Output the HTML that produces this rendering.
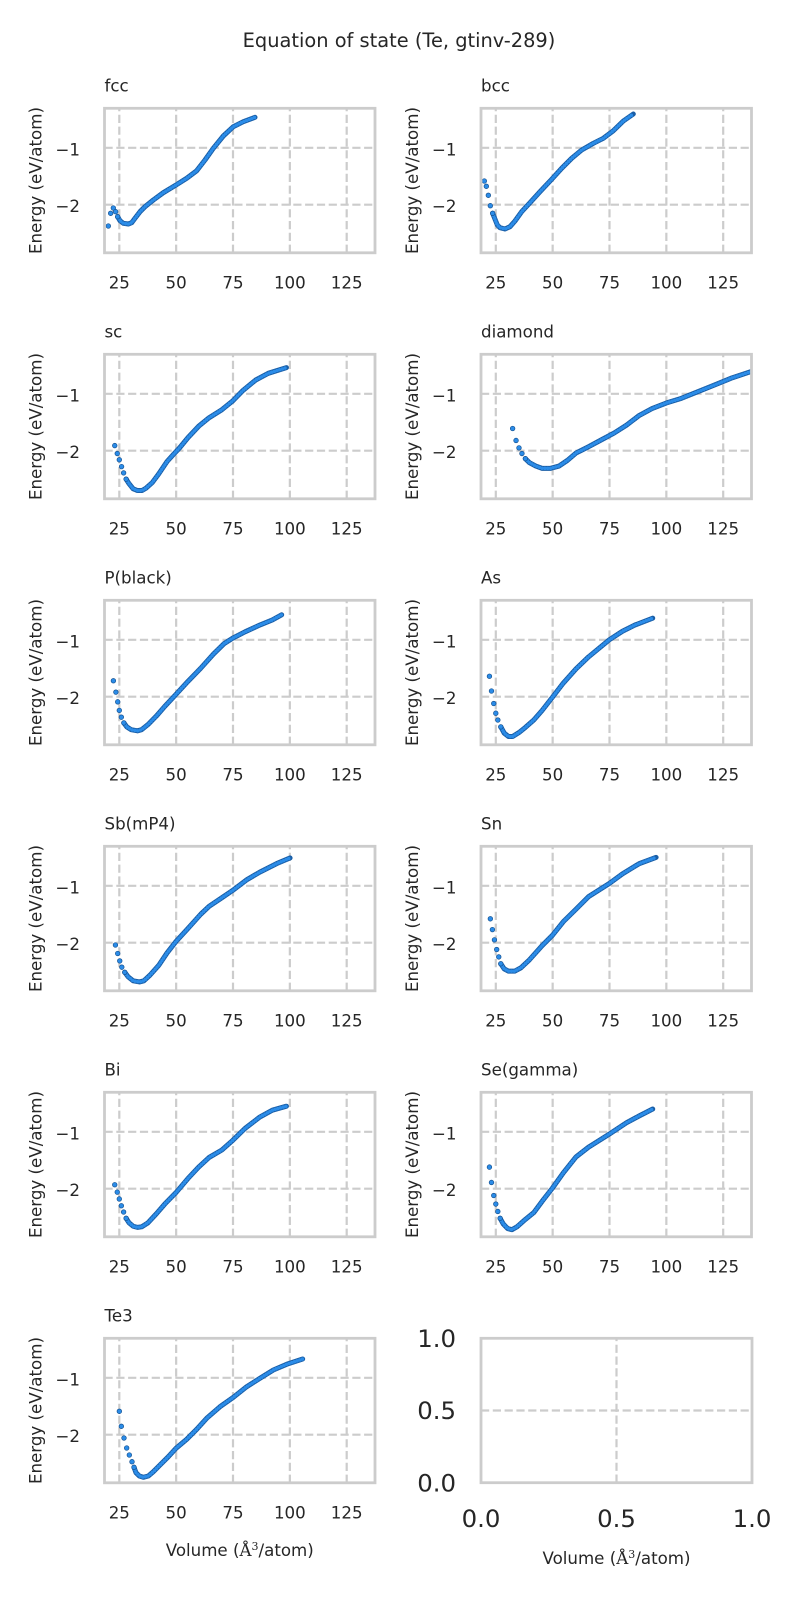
<!DOCTYPE html>
<html><head><meta charset="utf-8"><style>
html,body{margin:0;padding:0;background:#fff;}
svg{display:block;}
text{font-family:"DejaVu Sans","Liberation Sans",sans-serif;fill:#262626;}
.tk{font-size:16.67px;}
.tl{font-size:16.67px;}
.big{font-size:24.4px;}
.gl{stroke:#cccccc;stroke-width:2.2;stroke-dasharray:8.2 3.6;fill:none;}
.sp{stroke:#cccccc;stroke-width:2.8;fill:none;}
.d1{fill:none;stroke:#1a5ea6;stroke-width:5;stroke-linecap:round;stroke-linejoin:round;}
.d2{fill:none;stroke:#2b8ce8;stroke-width:3.4;stroke-linecap:round;stroke-linejoin:round;stroke-dasharray:0 2.8;}
.pt{fill:#2b8ce8;stroke:#14508f;stroke-width:0.7;}
</style></head><body>
<svg width="800" height="1600" viewBox="0 0 800 1600" xmlns="http://www.w3.org/2000/svg">
<defs><clipPath id="c"><rect x="0" y="0" width="270.5" height="144.5"/></clipPath></defs>
<rect width="800" height="1600" fill="#fff"/>
<text x="399" y="47" text-anchor="middle" style="font-size:19.4px">Equation of state (Te, gtinv-289)</text>

<!-- fcc -->
<g transform="translate(104.5,108.3)">
<line class="gl" x1="14.8" y1="144.5" x2="14.8" y2="0"/><line class="gl" x1="71.65" y1="144.5" x2="71.65" y2="0"/><line class="gl" x1="128.5" y1="144.5" x2="128.5" y2="0"/><line class="gl" x1="185.35" y1="144.5" x2="185.35" y2="0"/><line class="gl" x1="242.2" y1="144.5" x2="242.2" y2="0"/>
<line class="gl" x1="0" y1="39.5" x2="270.5" y2="39.5"/><line class="gl" x1="0" y1="96.4" x2="270.5" y2="96.4"/>
<g clip-path="url(#c)">
<polyline class="d1" points="13.17,108.4 15.5,112.4 18.83,115.0 23.83,115.7 27.17,114.4 30.5,110.0 35.5,103.4 40.5,98.4 48.8,91.7 58.8,84.4 71.5,76.7 82.2,70.0 92.2,62.4 100.5,51.7 108.8,40.0 118.8,27.7 128.8,18.4 138.8,13.4 150.5,9.0"/>
<polyline class="d2" points="13.17,108.4 15.5,112.4 18.83,115.0 23.83,115.7 27.17,114.4 30.5,110.0 35.5,103.4 40.5,98.4 48.8,91.7 58.8,84.4 71.5,76.7 82.2,70.0 92.2,62.4 100.5,51.7 108.8,40.0 118.8,27.7 128.8,18.4 138.8,13.4 150.5,9.0"/>
<circle class="pt" cx="3.83" cy="117.7" r="2.3"/><circle class="pt" cx="6.17" cy="105.0" r="2.3"/><circle class="pt" cx="8.83" cy="99.7" r="2.3"/><circle class="pt" cx="11.17" cy="103.4" r="2.3"/><circle class="pt" cx="13.17" cy="108.4" r="2.3"/>
</g>
<rect class="sp" x="0" y="0" width="270.5" height="144.5"/>
<text class="tl" x="0" y="-16.7">fcc</text>
<text class="tk" x="14.8" y="180" text-anchor="middle">25</text><text class="tk" x="71.65" y="180" text-anchor="middle">50</text><text class="tk" x="128.5" y="180" text-anchor="middle">75</text><text class="tk" x="185.35" y="180" text-anchor="middle">100</text><text class="tk" x="242.2" y="180" text-anchor="middle">125</text>
<text class="tk" x="-24.5" y="47" text-anchor="end">−1</text><text class="tk" x="-24.5" y="103.9" text-anchor="end">−2</text>
<text class="tk" transform="translate(-63,72.25) rotate(-90)" text-anchor="middle">Energy (eV/atom)</text>
</g>

<!-- bcc -->
<g transform="translate(481,108.3)">
<line class="gl" x1="14.8" y1="144.5" x2="14.8" y2="0"/><line class="gl" x1="71.65" y1="144.5" x2="71.65" y2="0"/><line class="gl" x1="128.5" y1="144.5" x2="128.5" y2="0"/><line class="gl" x1="185.35" y1="144.5" x2="185.35" y2="0"/><line class="gl" x1="242.2" y1="144.5" x2="242.2" y2="0"/>
<line class="gl" x1="0" y1="39.5" x2="270.5" y2="39.5"/><line class="gl" x1="0" y1="96.4" x2="270.5" y2="96.4"/>
<g clip-path="url(#c)">
<polyline class="d1" points="11.67,105.0 14.33,111.7 16.33,116.7 19.0,119.4 24.0,120.7 29.0,118.4 34.0,112.7 40.67,103.4 49.0,94.4 59.0,83.4 70.67,71.0 80.67,60.0 90.67,50.0 100.67,41.7 112.33,35.0 122.33,30.0 132.33,22.4 142.33,12.7 152.33,5.7"/>
<polyline class="d2" points="11.67,105.0 14.33,111.7 16.33,116.7 19.0,119.4 24.0,120.7 29.0,118.4 34.0,112.7 40.67,103.4 49.0,94.4 59.0,83.4 70.67,71.0 80.67,60.0 90.67,50.0 100.67,41.7 112.33,35.0 122.33,30.0 132.33,22.4 142.33,12.7 152.33,5.7"/>
<circle class="pt" cx="3.33" cy="72.7" r="2.3"/><circle class="pt" cx="5.33" cy="78.0" r="2.3"/><circle class="pt" cx="7.33" cy="87.0" r="2.3"/><circle class="pt" cx="9.33" cy="97.4" r="2.3"/><circle class="pt" cx="11.67" cy="105.0" r="2.3"/>
</g>
<rect class="sp" x="0" y="0" width="270.5" height="144.5"/>
<text class="tl" x="0" y="-16.7">bcc</text>
<text class="tk" x="14.8" y="180" text-anchor="middle">25</text><text class="tk" x="71.65" y="180" text-anchor="middle">50</text><text class="tk" x="128.5" y="180" text-anchor="middle">75</text><text class="tk" x="185.35" y="180" text-anchor="middle">100</text><text class="tk" x="242.2" y="180" text-anchor="middle">125</text>
<text class="tk" x="-24.5" y="47" text-anchor="end">−1</text><text class="tk" x="-24.5" y="103.9" text-anchor="end">−2</text>
<text class="tk" transform="translate(-63,72.25) rotate(-90)" text-anchor="middle">Energy (eV/atom)</text>
</g>

<!-- sc -->
<g transform="translate(104.5,354.3)">
<line class="gl" x1="14.8" y1="144.5" x2="14.8" y2="0"/><line class="gl" x1="71.65" y1="144.5" x2="71.65" y2="0"/><line class="gl" x1="128.5" y1="144.5" x2="128.5" y2="0"/><line class="gl" x1="185.35" y1="144.5" x2="185.35" y2="0"/><line class="gl" x1="242.2" y1="144.5" x2="242.2" y2="0"/>
<line class="gl" x1="0" y1="39.5" x2="270.5" y2="39.5"/><line class="gl" x1="0" y1="96.4" x2="270.5" y2="96.4"/>
<g clip-path="url(#c)">
<polyline class="d1" points="21.62,124.85 24.58,129.4 28.67,134.52 33.0,136.23 37.54,136.23 41.41,133.95 47.78,128.26 54.14,119.73 62.55,107.21 68.69,100.38 75.06,93.56 83.48,83.31 94.16,71.93 104.62,63.4 117.36,55.43 128.5,46.33 138.51,36.09 151.02,25.84 163.75,19.02 181.94,13.33"/>
<polyline class="d2" points="21.62,124.85 24.58,129.4 28.67,134.52 33.0,136.23 37.54,136.23 41.41,133.95 47.78,128.26 54.14,119.73 62.55,107.21 68.69,100.38 75.06,93.56 83.48,83.31 94.16,71.93 104.62,63.4 117.36,55.43 128.5,46.33 138.51,36.09 151.02,25.84 163.75,19.02 181.94,13.33"/>
<circle class="pt" cx="10.25" cy="91.28" r="2.3"/><circle class="pt" cx="12.75" cy="99.25" r="2.3"/><circle class="pt" cx="14.8" cy="105.5" r="2.3"/><circle class="pt" cx="17.07" cy="112.33" r="2.3"/><circle class="pt" cx="19.12" cy="118.59" r="2.3"/><circle class="pt" cx="21.62" cy="124.85" r="2.3"/>
</g>
<rect class="sp" x="0" y="0" width="270.5" height="144.5"/>
<text class="tl" x="0" y="-16.7">sc</text>
<text class="tk" x="14.8" y="180" text-anchor="middle">25</text><text class="tk" x="71.65" y="180" text-anchor="middle">50</text><text class="tk" x="128.5" y="180" text-anchor="middle">75</text><text class="tk" x="185.35" y="180" text-anchor="middle">100</text><text class="tk" x="242.2" y="180" text-anchor="middle">125</text>
<text class="tk" x="-24.5" y="47" text-anchor="end">−1</text><text class="tk" x="-24.5" y="103.9" text-anchor="end">−2</text>
<text class="tk" transform="translate(-63,72.25) rotate(-90)" text-anchor="middle">Energy (eV/atom)</text>
</g>

<!-- diamond -->
<g transform="translate(481,354.3)">
<line class="gl" x1="14.8" y1="144.5" x2="14.8" y2="0"/><line class="gl" x1="71.65" y1="144.5" x2="71.65" y2="0"/><line class="gl" x1="128.5" y1="144.5" x2="128.5" y2="0"/><line class="gl" x1="185.35" y1="144.5" x2="185.35" y2="0"/><line class="gl" x1="242.2" y1="144.5" x2="242.2" y2="0"/>
<line class="gl" x1="0" y1="39.5" x2="270.5" y2="39.5"/><line class="gl" x1="0" y1="96.4" x2="270.5" y2="96.4"/>
<g clip-path="url(#c)">
<polyline class="d1" points="44.36,104.37 48.46,108.35 54.82,111.76 61.19,114.04 69.6,114.04 78.02,111.76 86.43,106.07 95.07,98.68 107.58,92.42 120.31,85.59 133.05,78.76 145.55,70.8 158.29,61.12 171.02,54.29 185.58,48.6 200.36,44.05 217.19,37.22 234.24,30.4 251.07,23.57 269.94,17.31 275,15.6"/>
<polyline class="d2" points="44.36,104.37 48.46,108.35 54.82,111.76 61.19,114.04 69.6,114.04 78.02,111.76 86.43,106.07 95.07,98.68 107.58,92.42 120.31,85.59 133.05,78.76 145.55,70.8 158.29,61.12 171.02,54.29 185.58,48.6 200.36,44.05 217.19,37.22 234.24,30.4 251.07,23.57 269.94,17.31 275,15.6"/>
<circle class="pt" cx="31.63" cy="74.21" r="2.3"/><circle class="pt" cx="35.04" cy="86.16" r="2.3"/><circle class="pt" cx="37.99" cy="93.56" r="2.3"/><circle class="pt" cx="40.95" cy="99.25" r="2.3"/><circle class="pt" cx="44.36" cy="104.37" r="2.3"/>
</g>
<rect class="sp" x="0" y="0" width="270.5" height="144.5"/>
<text class="tl" x="0" y="-16.7">diamond</text>
<text class="tk" x="14.8" y="180" text-anchor="middle">25</text><text class="tk" x="71.65" y="180" text-anchor="middle">50</text><text class="tk" x="128.5" y="180" text-anchor="middle">75</text><text class="tk" x="185.35" y="180" text-anchor="middle">100</text><text class="tk" x="242.2" y="180" text-anchor="middle">125</text>
<text class="tk" x="-24.5" y="47" text-anchor="end">−1</text><text class="tk" x="-24.5" y="103.9" text-anchor="end">−2</text>
<text class="tk" transform="translate(-63,72.25) rotate(-90)" text-anchor="middle">Energy (eV/atom)</text>
</g>

<!-- P(black) -->
<g transform="translate(104.5,600.3)">
<line class="gl" x1="14.8" y1="144.5" x2="14.8" y2="0"/><line class="gl" x1="71.65" y1="144.5" x2="71.65" y2="0"/><line class="gl" x1="128.5" y1="144.5" x2="128.5" y2="0"/><line class="gl" x1="185.35" y1="144.5" x2="185.35" y2="0"/><line class="gl" x1="242.2" y1="144.5" x2="242.2" y2="0"/>
<line class="gl" x1="0" y1="39.5" x2="270.5" y2="39.5"/><line class="gl" x1="0" y1="96.4" x2="270.5" y2="96.4"/>
<g clip-path="url(#c)">
<polyline class="d1" points="19.35,122.57 22.3,126.56 26.62,129.4 33.0,130.54 37.09,129.4 43.45,124.28 51.87,115.75 60.28,106.07 71.42,94.12 83.48,81.04 96.21,67.95 108.95,53.73 119.4,43.48 128.27,37.79 140.55,31.53 155.33,24.71 167.84,19.59 177.16,14.46"/>
<polyline class="d2" points="19.35,122.57 22.3,126.56 26.62,129.4 33.0,130.54 37.09,129.4 43.45,124.28 51.87,115.75 60.28,106.07 71.42,94.12 83.48,81.04 96.21,67.95 108.95,53.73 119.4,43.48 128.27,37.79 140.55,31.53 155.33,24.71 167.84,19.59 177.16,14.46"/>
<circle class="pt" cx="8.89" cy="80.47" r="2.3"/><circle class="pt" cx="11.39" cy="91.85" r="2.3"/><circle class="pt" cx="13.21" cy="101.52" r="2.3"/><circle class="pt" cx="14.8" cy="110.06" r="2.3"/><circle class="pt" cx="16.85" cy="116.88" r="2.3"/><circle class="pt" cx="19.35" cy="122.57" r="2.3"/>
</g>
<rect class="sp" x="0" y="0" width="270.5" height="144.5"/>
<text class="tl" x="0" y="-16.7">P(black)</text>
<text class="tk" x="14.8" y="180" text-anchor="middle">25</text><text class="tk" x="71.65" y="180" text-anchor="middle">50</text><text class="tk" x="128.5" y="180" text-anchor="middle">75</text><text class="tk" x="185.35" y="180" text-anchor="middle">100</text><text class="tk" x="242.2" y="180" text-anchor="middle">125</text>
<text class="tk" x="-24.5" y="47" text-anchor="end">−1</text><text class="tk" x="-24.5" y="103.9" text-anchor="end">−2</text>
<text class="tk" transform="translate(-63,72.25) rotate(-90)" text-anchor="middle">Energy (eV/atom)</text>
</g>

<!-- As -->
<g transform="translate(481,600.3)">
<line class="gl" x1="14.8" y1="144.5" x2="14.8" y2="0"/><line class="gl" x1="71.65" y1="144.5" x2="71.65" y2="0"/><line class="gl" x1="128.5" y1="144.5" x2="128.5" y2="0"/><line class="gl" x1="185.35" y1="144.5" x2="185.35" y2="0"/><line class="gl" x1="242.2" y1="144.5" x2="242.2" y2="0"/>
<line class="gl" x1="0" y1="39.5" x2="270.5" y2="39.5"/><line class="gl" x1="0" y1="96.4" x2="270.5" y2="96.4"/>
<g clip-path="url(#c)">
<polyline class="d1" points="19.8,126.56 23.21,132.82 27.53,136.23 31.63,136.23 37.99,132.25 44.36,127.13 52.78,119.73 61.19,110.06 71.42,96.97 82.34,82.74 95.07,68.52 107.58,56.57 128.27,39.5 141.46,30.97 153.97,24.71 171.71,17.88"/>
<polyline class="d2" points="19.8,126.56 23.21,132.82 27.53,136.23 31.63,136.23 37.99,132.25 44.36,127.13 52.78,119.73 61.19,110.06 71.42,96.97 82.34,82.74 95.07,68.52 107.58,56.57 128.27,39.5 141.46,30.97 153.97,24.71 171.71,17.88"/>
<circle class="pt" cx="8.43" cy="75.92" r="2.3"/><circle class="pt" cx="10.48" cy="90.71" r="2.3"/><circle class="pt" cx="12.75" cy="103.23" r="2.3"/><circle class="pt" cx="14.8" cy="112.9" r="2.3"/><circle class="pt" cx="16.85" cy="119.73" r="2.3"/><circle class="pt" cx="19.8" cy="126.56" r="2.3"/>
</g>
<rect class="sp" x="0" y="0" width="270.5" height="144.5"/>
<text class="tl" x="0" y="-16.7">As</text>
<text class="tk" x="14.8" y="180" text-anchor="middle">25</text><text class="tk" x="71.65" y="180" text-anchor="middle">50</text><text class="tk" x="128.5" y="180" text-anchor="middle">75</text><text class="tk" x="185.35" y="180" text-anchor="middle">100</text><text class="tk" x="242.2" y="180" text-anchor="middle">125</text>
<text class="tk" x="-24.5" y="47" text-anchor="end">−1</text><text class="tk" x="-24.5" y="103.9" text-anchor="end">−2</text>
<text class="tk" transform="translate(-63,72.25) rotate(-90)" text-anchor="middle">Energy (eV/atom)</text>
</g>

<!-- Sb(mP4) -->
<g transform="translate(104.5,846.3)">
<line class="gl" x1="14.8" y1="144.5" x2="14.8" y2="0"/><line class="gl" x1="71.65" y1="144.5" x2="71.65" y2="0"/><line class="gl" x1="128.5" y1="144.5" x2="128.5" y2="0"/><line class="gl" x1="185.35" y1="144.5" x2="185.35" y2="0"/><line class="gl" x1="242.2" y1="144.5" x2="242.2" y2="0"/>
<line class="gl" x1="0" y1="39.5" x2="270.5" y2="39.5"/><line class="gl" x1="0" y1="96.4" x2="270.5" y2="96.4"/>
<g clip-path="url(#c)">
<polyline class="d1" points="20.26,125.99 23.67,130.54 28.67,134.52 35.04,135.66 39.36,134.52 45.5,128.83 54.14,119.16 62.55,106.64 71.42,95.26 83.48,82.18 96.21,67.95 104.62,59.98 117.36,51.45 128.27,44.05 142.6,33.24 155.33,25.84 172.16,17.31 185.58,11.62"/>
<polyline class="d2" points="20.26,125.99 23.67,130.54 28.67,134.52 35.04,135.66 39.36,134.52 45.5,128.83 54.14,119.16 62.55,106.64 71.42,95.26 83.48,82.18 96.21,67.95 104.62,59.98 117.36,51.45 128.27,44.05 142.6,33.24 155.33,25.84 172.16,17.31 185.58,11.62"/>
<circle class="pt" cx="10.93" cy="98.68" r="2.3"/><circle class="pt" cx="13.21" cy="107.21" r="2.3"/><circle class="pt" cx="15.25" cy="114.61" r="2.3"/><circle class="pt" cx="17.3" cy="120.87" r="2.3"/><circle class="pt" cx="20.26" cy="125.99" r="2.3"/>
</g>
<rect class="sp" x="0" y="0" width="270.5" height="144.5"/>
<text class="tl" x="0" y="-16.7">Sb(mP4)</text>
<text class="tk" x="14.8" y="180" text-anchor="middle">25</text><text class="tk" x="71.65" y="180" text-anchor="middle">50</text><text class="tk" x="128.5" y="180" text-anchor="middle">75</text><text class="tk" x="185.35" y="180" text-anchor="middle">100</text><text class="tk" x="242.2" y="180" text-anchor="middle">125</text>
<text class="tk" x="-24.5" y="47" text-anchor="end">−1</text><text class="tk" x="-24.5" y="103.9" text-anchor="end">−2</text>
<text class="tk" transform="translate(-63,72.25) rotate(-90)" text-anchor="middle">Energy (eV/atom)</text>
</g>

<!-- Sn -->
<g transform="translate(481,846.3)">
<line class="gl" x1="14.8" y1="144.5" x2="14.8" y2="0"/><line class="gl" x1="71.65" y1="144.5" x2="71.65" y2="0"/><line class="gl" x1="128.5" y1="144.5" x2="128.5" y2="0"/><line class="gl" x1="185.35" y1="144.5" x2="185.35" y2="0"/><line class="gl" x1="242.2" y1="144.5" x2="242.2" y2="0"/>
<line class="gl" x1="0" y1="39.5" x2="270.5" y2="39.5"/><line class="gl" x1="0" y1="96.4" x2="270.5" y2="96.4"/>
<g clip-path="url(#c)">
<polyline class="d1" points="19.8,117.45 23.21,122.57 27.53,124.85 33.67,124.85 40.04,121.44 48.46,113.47 61.19,99.25 71.42,89.0 82.34,75.35 95.07,62.83 107.58,50.31 128.27,37.22 141.46,27.55 158.29,17.31 175.12,11.05"/>
<polyline class="d2" points="19.8,117.45 23.21,122.57 27.53,124.85 33.67,124.85 40.04,121.44 48.46,113.47 61.19,99.25 71.42,89.0 82.34,75.35 95.07,62.83 107.58,50.31 128.27,37.22 141.46,27.55 158.29,17.31 175.12,11.05"/>
<circle class="pt" cx="9.34" cy="72.5" r="2.3"/><circle class="pt" cx="11.39" cy="83.31" r="2.3"/><circle class="pt" cx="13.44" cy="93.56" r="2.3"/><circle class="pt" cx="15.71" cy="103.23" r="2.3"/><circle class="pt" cx="17.76" cy="110.63" r="2.3"/><circle class="pt" cx="19.8" cy="117.45" r="2.3"/>
</g>
<rect class="sp" x="0" y="0" width="270.5" height="144.5"/>
<text class="tl" x="0" y="-16.7">Sn</text>
<text class="tk" x="14.8" y="180" text-anchor="middle">25</text><text class="tk" x="71.65" y="180" text-anchor="middle">50</text><text class="tk" x="128.5" y="180" text-anchor="middle">75</text><text class="tk" x="185.35" y="180" text-anchor="middle">100</text><text class="tk" x="242.2" y="180" text-anchor="middle">125</text>
<text class="tk" x="-24.5" y="47" text-anchor="end">−1</text><text class="tk" x="-24.5" y="103.9" text-anchor="end">−2</text>
<text class="tk" transform="translate(-63,72.25) rotate(-90)" text-anchor="middle">Energy (eV/atom)</text>
</g>

<!-- Bi -->
<g transform="translate(104.5,1092.3)">
<line class="gl" x1="14.8" y1="144.5" x2="14.8" y2="0"/><line class="gl" x1="71.65" y1="144.5" x2="71.65" y2="0"/><line class="gl" x1="128.5" y1="144.5" x2="128.5" y2="0"/><line class="gl" x1="185.35" y1="144.5" x2="185.35" y2="0"/><line class="gl" x1="242.2" y1="144.5" x2="242.2" y2="0"/>
<line class="gl" x1="0" y1="39.5" x2="270.5" y2="39.5"/><line class="gl" x1="0" y1="96.4" x2="270.5" y2="96.4"/>
<g clip-path="url(#c)">
<polyline class="d1" points="21.62,125.99 24.58,130.54 28.67,133.95 33.0,135.09 37.09,134.52 43.45,130.54 51.87,121.44 60.28,111.76 71.42,100.38 83.48,86.16 94.16,74.78 104.62,65.11 117.36,57.71 128.27,48.04 140.55,36.09 155.33,24.71 167.84,17.88 181.94,13.9"/>
<polyline class="d2" points="21.62,125.99 24.58,130.54 28.67,133.95 33.0,135.09 37.09,134.52 43.45,130.54 51.87,121.44 60.28,111.76 71.42,100.38 83.48,86.16 94.16,74.78 104.62,65.11 117.36,57.71 128.27,48.04 140.55,36.09 155.33,24.71 167.84,17.88 181.94,13.9"/>
<circle class="pt" cx="10.25" cy="92.42" r="2.3"/><circle class="pt" cx="12.75" cy="99.81" r="2.3"/><circle class="pt" cx="14.8" cy="106.64" r="2.3"/><circle class="pt" cx="16.85" cy="113.47" r="2.3"/><circle class="pt" cx="19.12" cy="119.73" r="2.3"/><circle class="pt" cx="21.62" cy="125.99" r="2.3"/>
</g>
<rect class="sp" x="0" y="0" width="270.5" height="144.5"/>
<text class="tl" x="0" y="-16.7">Bi</text>
<text class="tk" x="14.8" y="180" text-anchor="middle">25</text><text class="tk" x="71.65" y="180" text-anchor="middle">50</text><text class="tk" x="128.5" y="180" text-anchor="middle">75</text><text class="tk" x="185.35" y="180" text-anchor="middle">100</text><text class="tk" x="242.2" y="180" text-anchor="middle">125</text>
<text class="tk" x="-24.5" y="47" text-anchor="end">−1</text><text class="tk" x="-24.5" y="103.9" text-anchor="end">−2</text>
<text class="tk" transform="translate(-63,72.25) rotate(-90)" text-anchor="middle">Energy (eV/atom)</text>
</g>

<!-- Se(gamma) -->
<g transform="translate(481,1092.3)">
<line class="gl" x1="14.8" y1="144.5" x2="14.8" y2="0"/><line class="gl" x1="71.65" y1="144.5" x2="71.65" y2="0"/><line class="gl" x1="128.5" y1="144.5" x2="128.5" y2="0"/><line class="gl" x1="185.35" y1="144.5" x2="185.35" y2="0"/><line class="gl" x1="242.2" y1="144.5" x2="242.2" y2="0"/>
<line class="gl" x1="0" y1="39.5" x2="270.5" y2="39.5"/><line class="gl" x1="0" y1="96.4" x2="270.5" y2="96.4"/>
<g clip-path="url(#c)">
<polyline class="d1" points="19.12,125.99 22.3,131.68 26.62,136.23 30.94,137.37 35.95,134.52 44.36,127.13 52.78,120.3 61.19,108.92 71.42,95.83 82.34,80.47 95.07,64.54 107.58,54.86 128.27,41.78 145.55,30.4 158.29,23.57 171.71,16.74"/>
<polyline class="d2" points="19.12,125.99 22.3,131.68 26.62,136.23 30.94,137.37 35.95,134.52 44.36,127.13 52.78,120.3 61.19,108.92 71.42,95.83 82.34,80.47 95.07,64.54 107.58,54.86 128.27,41.78 145.55,30.4 158.29,23.57 171.71,16.74"/>
<circle class="pt" cx="8.43" cy="74.78" r="2.3"/><circle class="pt" cx="10.48" cy="90.14" r="2.3"/><circle class="pt" cx="12.75" cy="103.23" r="2.3"/><circle class="pt" cx="14.8" cy="111.76" r="2.3"/><circle class="pt" cx="16.85" cy="119.16" r="2.3"/><circle class="pt" cx="19.12" cy="125.99" r="2.3"/>
</g>
<rect class="sp" x="0" y="0" width="270.5" height="144.5"/>
<text class="tl" x="0" y="-16.7">Se(gamma)</text>
<text class="tk" x="14.8" y="180" text-anchor="middle">25</text><text class="tk" x="71.65" y="180" text-anchor="middle">50</text><text class="tk" x="128.5" y="180" text-anchor="middle">75</text><text class="tk" x="185.35" y="180" text-anchor="middle">100</text><text class="tk" x="242.2" y="180" text-anchor="middle">125</text>
<text class="tk" x="-24.5" y="47" text-anchor="end">−1</text><text class="tk" x="-24.5" y="103.9" text-anchor="end">−2</text>
<text class="tk" transform="translate(-63,72.25) rotate(-90)" text-anchor="middle">Energy (eV/atom)</text>
</g>

<!-- Te3 -->
<g transform="translate(104.5,1338.3)">
<line class="gl" x1="14.8" y1="144.5" x2="14.8" y2="0"/><line class="gl" x1="71.65" y1="144.5" x2="71.65" y2="0"/><line class="gl" x1="128.5" y1="144.5" x2="128.5" y2="0"/><line class="gl" x1="185.35" y1="144.5" x2="185.35" y2="0"/><line class="gl" x1="242.2" y1="144.5" x2="242.2" y2="0"/>
<line class="gl" x1="0" y1="39.5" x2="270.5" y2="39.5"/><line class="gl" x1="0" y1="96.4" x2="270.5" y2="96.4"/>
<g clip-path="url(#c)">
<polyline class="d1" points="29.5,129.0 31.5,134.4 34.83,137.7 38.83,139.0 43.83,137.7 48.83,133.4 55.5,126.7 63.83,118.4 71.5,110.0 82.17,101.0 92.17,91.0 102.17,80.0 115.5,68.4 128.83,59.0 142.17,48.4 155.5,40.0 168.83,31.7 182.17,26.0 198.17,20.7"/>
<polyline class="d2" points="29.5,129.0 31.5,134.4 34.83,137.7 38.83,139.0 43.83,137.7 48.83,133.4 55.5,126.7 63.83,118.4 71.5,110.0 82.17,101.0 92.17,91.0 102.17,80.0 115.5,68.4 128.83,59.0 142.17,48.4 155.5,40.0 168.83,31.7 182.17,26.0 198.17,20.7"/>
<circle class="pt" cx="14.83" cy="73.0" r="2.3"/><circle class="pt" cx="16.83" cy="88.0" r="2.3"/><circle class="pt" cx="19.5" cy="99.7" r="2.3"/><circle class="pt" cx="22.17" cy="109.7" r="2.3"/><circle class="pt" cx="24.83" cy="116.7" r="2.3"/><circle class="pt" cx="27.5" cy="123.4" r="2.3"/><circle class="pt" cx="29.5" cy="129.0" r="2.3"/>
</g>
<rect class="sp" x="0" y="0" width="270.5" height="144.5"/>
<text class="tl" x="0" y="-16.7">Te3</text>
<text class="tk" x="14.8" y="180" text-anchor="middle">25</text><text class="tk" x="71.65" y="180" text-anchor="middle">50</text><text class="tk" x="128.5" y="180" text-anchor="middle">75</text><text class="tk" x="185.35" y="180" text-anchor="middle">100</text><text class="tk" x="242.2" y="180" text-anchor="middle">125</text>
<text class="tk" x="-24.5" y="47" text-anchor="end">−1</text><text class="tk" x="-24.5" y="103.9" text-anchor="end">−2</text>
<text class="tk" transform="translate(-63,72.25) rotate(-90)" text-anchor="middle">Energy (eV/atom)</text>
<text class="tk" x="135.25" y="217.7" text-anchor="middle">Volume (<tspan style="font-family:'DejaVu Serif','Liberation Serif',serif">Å</tspan><tspan dy="-6" style="font-size:11px;font-family:'DejaVu Serif','Liberation Serif',serif">3</tspan><tspan dy="6">/atom)</tspan></text>
</g>

<!-- empty axes -->
<g transform="translate(481,1338.3)">
<line class="gl" x1="135.5" y1="144.4" x2="135.5" y2="0"/>
<line class="gl" x1="0" y1="72.2" x2="271" y2="72.2"/>
<rect class="sp" x="0" y="0" width="271" height="144.4"/>
<text class="big" x="0" y="188.7" text-anchor="middle">0.0</text><text class="big" x="135.5" y="188.7" text-anchor="middle">0.5</text><text class="big" x="271" y="188.7" text-anchor="middle">1.0</text>
<text class="big" x="-25" y="8.7" text-anchor="end">1.0</text><text class="big" x="-25" y="80.9" text-anchor="end">0.5</text><text class="big" x="-25" y="153.1" text-anchor="end">0.0</text>
<text class="tk" x="135.5" y="225.7" text-anchor="middle">Volume (<tspan style="font-family:'DejaVu Serif','Liberation Serif',serif">Å</tspan><tspan dy="-6" style="font-size:11px;font-family:'DejaVu Serif','Liberation Serif',serif">3</tspan><tspan dy="6">/atom)</tspan></text>
</g>
</svg>
</body></html>
